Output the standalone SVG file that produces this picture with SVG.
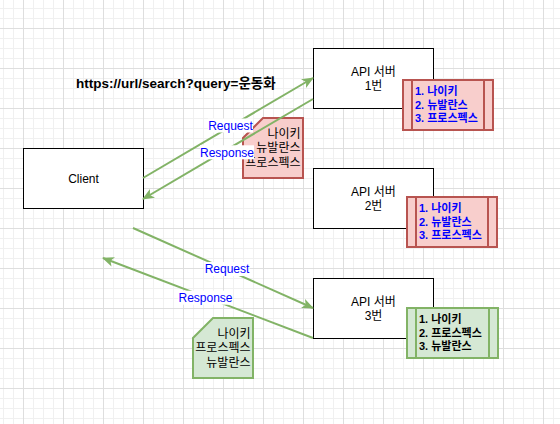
<svg xmlns="http://www.w3.org/2000/svg" width="560" height="424" viewBox="0 0 560 424">
<style>
  text { font-family: "Liberation Sans", "Noto Sans CJK KR", sans-serif; }
  .box { fill: #ffffff; stroke: #000000; stroke-width: 1; }
  .t12 { font-size: 12px; fill: #000000; }
  .mid { text-anchor: middle; }
  .end { text-anchor: end; }
  .lbl { font-size: 12px; fill: #0000ff; text-anchor: middle; }
  .lblbg { fill: #ffffff; }
  .redbox { fill: #f8cecc; stroke: #b85450; stroke-width: 2; }
  .greenbox { fill: #d5e8d4; stroke: #82b366; stroke-width: 2; }
  .list { font-size: 11px; font-weight: bold; }
  .blue { fill: #0000ff; }
  .black { fill: #000000; }
  .edge { fill: none; stroke: #82b366; stroke-width: 2; }
</style>
<defs>
  <pattern id="minor" patternUnits="userSpaceOnUse" x="3" y="8" width="10" height="10">
    <rect x="0" y="0" width="1" height="10" fill="#f0f0f0"/>
    <rect x="0" y="0" width="10" height="1" fill="#f0f0f0"/>
  </pattern>
  <pattern id="major" patternUnits="userSpaceOnUse" x="23" y="28" width="40" height="40">
    <rect x="0" y="0" width="1" height="40" fill="#dedede"/>
    <rect x="0" y="0" width="40" height="1" fill="#dedede"/>
  </pattern>
  <marker id="arr" markerUnits="userSpaceOnUse" viewBox="0 0 12 10" refX="11" refY="5" markerWidth="12" markerHeight="10" orient="auto">
    <path d="M0,0 L12,5 L0,10 L3,5 Z" fill="#82b366"/>
  </marker>
</defs>
<rect x="0" y="0" width="560" height="424" fill="#ffffff"/>
<rect x="0" y="0" width="560" height="424" fill="url(#minor)"/>
<rect x="0" y="0" width="560" height="424" fill="url(#major)"/>

<g id="url-text">
  <text x="76" y="88" font-size="13.5" font-weight="bold" fill="#000000">https://url/search?query=운동화</text>
</g>

<g id="client">
  <rect class="box" x="23.5" y="148.5" width="120" height="60"/>
  <text class="t12 mid" x="83.5" y="182.5">Client</text>
</g>

<g id="server1">
  <rect class="box" x="313.5" y="48.5" width="120" height="60"/>
  <text class="t12 mid" x="373.5" y="75.5">API 서버</text>
  <text class="t12 mid" x="373.5" y="89.5">1번</text>
</g>

<g id="server2">
  <rect class="box" x="313.5" y="168.5" width="120" height="60"/>
  <text class="t12 mid" x="373.5" y="195.5">API 서버</text>
  <text class="t12 mid" x="373.5" y="209.5">2번</text>
</g>

<g id="server3">
  <rect class="box" x="313.5" y="278.5" width="120" height="60"/>
  <text class="t12 mid" x="373.5" y="305.5">API 서버</text>
  <text class="t12 mid" x="373.5" y="319.5">3번</text>
</g>

<g id="list1">
  <rect class="redbox" x="403" y="80" width="90" height="50"/>
  <line x1="412" y1="80" x2="412" y2="130" stroke="#b85450" stroke-width="2"/>
  <line x1="484" y1="80" x2="484" y2="130" stroke="#b85450" stroke-width="2"/>
  <text class="list blue" x="415" y="95.4">1. 나이키</text>
  <text class="list blue" x="415" y="108.9">2. 뉴발란스</text>
  <text class="list blue" x="415" y="122.4">3. 프로스펙스</text>
</g>

<g id="list2">
  <rect class="redbox" x="407" y="197" width="90" height="50"/>
  <line x1="416" y1="197" x2="416" y2="247" stroke="#b85450" stroke-width="2"/>
  <line x1="488" y1="197" x2="488" y2="247" stroke="#b85450" stroke-width="2"/>
  <text class="list blue" x="419" y="212.4">1. 나이키</text>
  <text class="list blue" x="419" y="225.9">2. 뉴발란스</text>
  <text class="list blue" x="419" y="239.4">3. 프로스펙스</text>
</g>

<g id="list3">
  <rect class="greenbox" x="407" y="308" width="91" height="50"/>
  <line x1="416" y1="308" x2="416" y2="358" stroke="#82b366" stroke-width="2"/>
  <line x1="489" y1="308" x2="489" y2="358" stroke="#82b366" stroke-width="2"/>
  <text class="list black" x="419" y="323.4">1. 나이키</text>
  <text class="list black" x="419" y="336.9">2. 프로스펙스</text>
  <text class="list black" x="419" y="350.4">3. 뉴발란스</text>
</g>

<g id="card-red">
  <path class="redbox" d="M263,118 L303,118 L303,178 L243,178 L243,138 Z"/>
  <text class="t12 end" x="300.5" y="137.7">나이키</text>
  <text class="t12 end" x="300.5" y="152.2">뉴발란스</text>
  <text class="t12 end" x="300.5" y="166.7">프로스펙스</text>
</g>

<g id="card-green">
  <path class="greenbox" d="M213,318 L253,318 L253,378 L193,378 L193,338 Z"/>
  <text class="t12 end" x="250.5" y="337.7">나이키</text>
  <text class="t12 end" x="250.5" y="352.2">프로스펙스</text>
  <text class="t12 end" x="250.5" y="366.7">뉴발란스</text>
</g>

<g id="connectors">
  <path class="edge" d="M143,178 L313,78" marker-end="url(#arr)"/>
  <path class="edge" d="M313,99 L143,199" marker-end="url(#arr)"/>
  <path class="edge" d="M133,228 L313,308" marker-end="url(#arr)"/>
  <path class="edge" d="M313,338 L103,258" marker-end="url(#arr)"/>
  <rect class="lblbg" x="208" y="118.5" width="45" height="14"/>
  <text class="lbl" x="230.5" y="129.7">Request</text>
  <rect class="lblbg" x="200" y="145.3" width="54" height="14"/>
  <text class="lbl" x="227" y="156.5">Response</text>
  <rect class="lblbg" x="204.5" y="262" width="45" height="14"/>
  <text class="lbl" x="227" y="273.2">Request</text>
  <rect class="lblbg" x="178.5" y="290.7" width="54" height="14"/>
  <text class="lbl" x="205.5" y="301.9">Response</text>
</g>
</svg>
